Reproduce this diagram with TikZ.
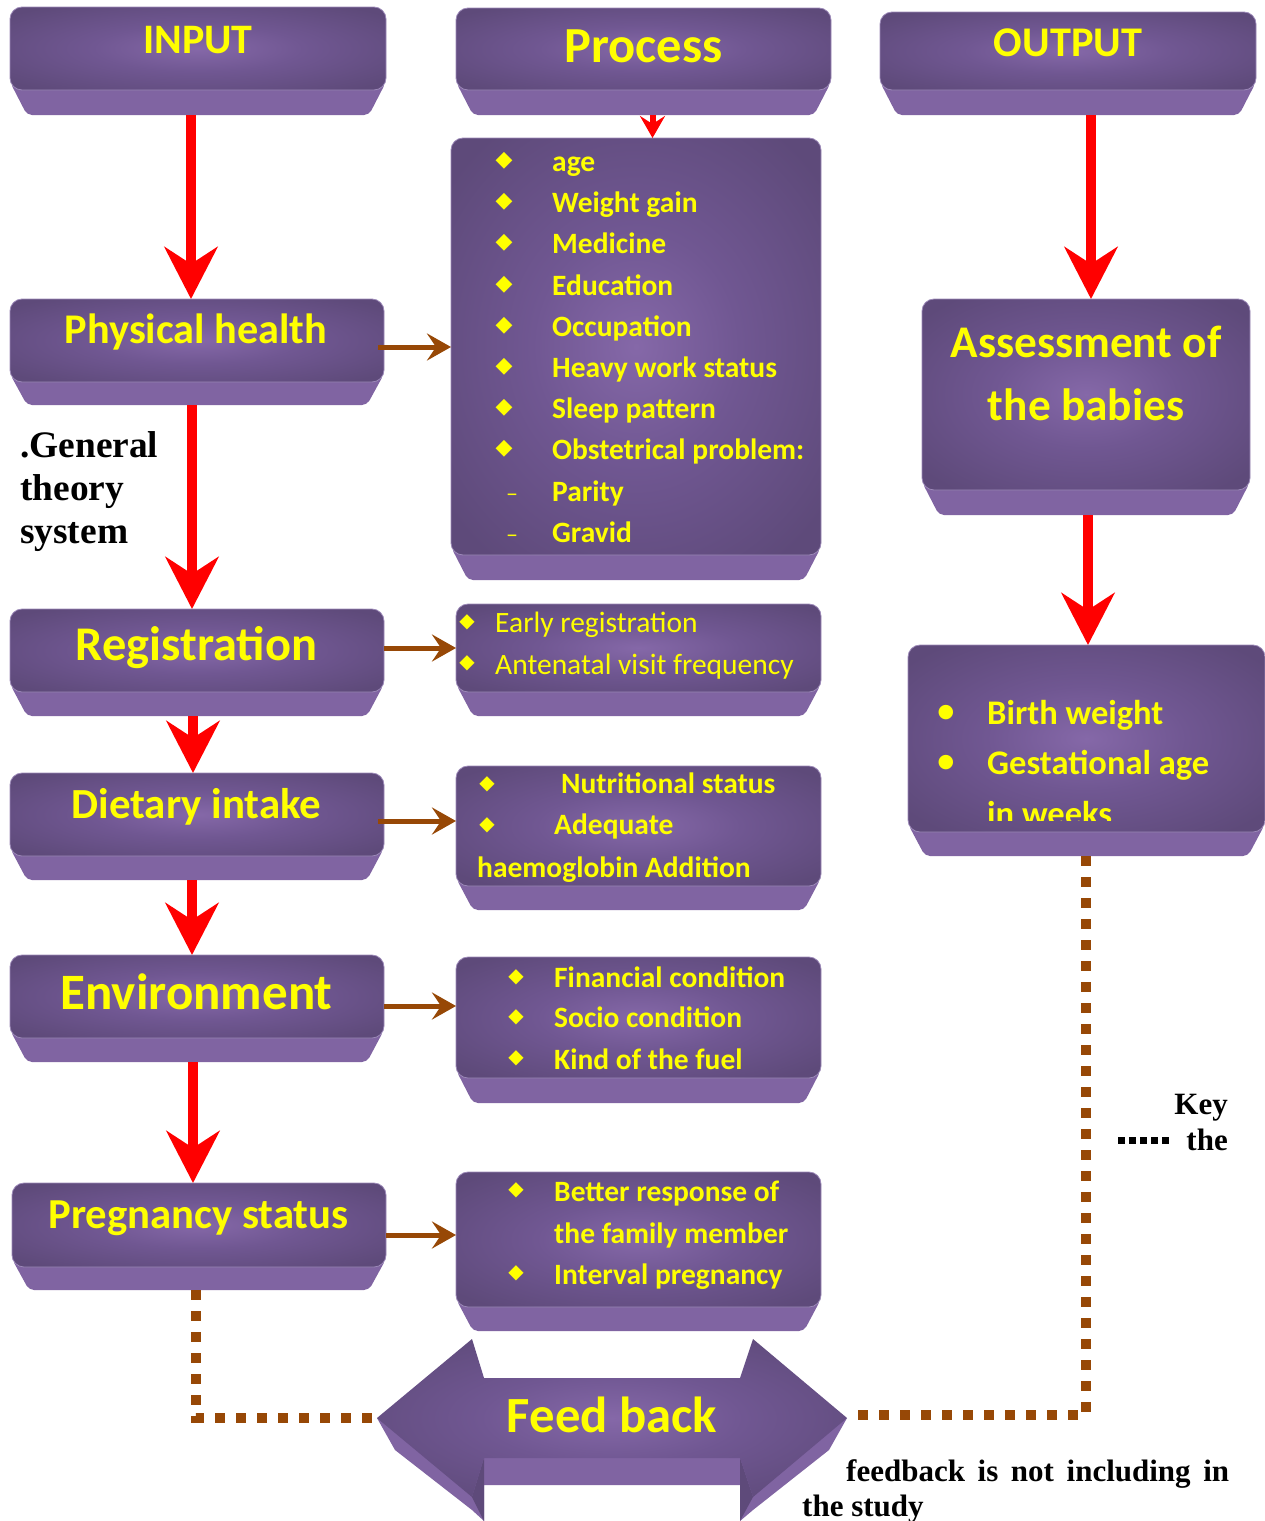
\documentclass[tikz,border=0pt]{standalone}
\usepackage{fontspec}
\setmainfont{Carlito}
\newfontfamily\tnr{Liberation Serif}
\newfontfamily\djv{DejaVu Sans}
\usetikzlibrary{arrows.meta,calc}
\definecolor{pdark}{HTML}{5E4A7A}
\definecolor{plight}{HTML}{8568A8}
\definecolor{pmid}{HTML}{705792}
\definecolor{pbevel}{HTML}{8064A2}
\definecolor{pedge}{HTML}{9C89B8}
\definecolor{ytext}{HTML}{FFFF00}
\definecolor{brn}{HTML}{974806}
\definecolor{rd}{HTML}{FF0000}
\pgfdeclareradialshading{glow}{\pgfpoint{0bp}{0bp}}{color(0bp)=(plight); color(14bp)=(pmid); color(32bp)=(pdark); color(50bp)=(pdark)}
\tikzset{
  boxnode/.style={inner sep=0pt, outer sep=0pt, draw=none},
  ttl/.style={text=ytext, font=\bfseries\fontsize{#1}{#1}\selectfont, anchor=base, inner sep=0pt},
  itemb/.style={text=ytext, font=\bfseries\fontsize{29.5}{29.5}\selectfont, anchor=base west, inner sep=0pt},
  itemr/.style={text=ytext, font=\fontsize{29.5}{29.5}\selectfont, anchor=base west, inner sep=0pt},
  itemo/.style={text=ytext, font=\bfseries\fontsize{34.5}{34.5}\selectfont, anchor=base west, inner sep=0pt},
  dia/.style={text=ytext, font=\djv\fontsize{#1}{#1}\selectfont, inner sep=0pt},
  dsh/.style={text=ytext, font=\fontsize{24}{24}\selectfont, anchor=base, inner sep=0pt},
  blk/.style={text=black, font=\tnr\bfseries\fontsize{#1}{#1}\selectfont, inner sep=0pt},
  redarr/.style={draw=rd, line width=10pt, -{Stealth[length=52pt, width=53pt, inset=17pt]}},
  redsmall/.style={draw=rd, line width=6pt, -{Stealth[length=22pt, width=25pt, inset=8pt]}},
  brarr/.style={draw=brn, line width=5pt, -{Stealth[length=24pt, width=27pt, inset=9pt]}},
  dotln/.style={draw=brn, line width=10pt, dash pattern=on 10pt off 11pt},
  keydots/.style={draw=black, line width=7pt, dash pattern=on 7pt off 4pt}
}
\newcommand{\purplebox}[6]{%
  \fill[pbevel, rounded corners=5pt] (#2,#5-8) -- (#3,#5-8) -- (#3-17,#6) -- (#2+17,#6) -- cycle;
  \shade[shading=glow, draw=pedge, line width=0.8pt, rounded corners=12pt] (#2,#4) rectangle (#3,#5);
  \node[boxnode, minimum width={#3-#2}, minimum height={#6-#4}] (#1) at ({(#2+#3)/2},{(#4+#6)/2}) {};
}
\begin{document}
\begin{tikzpicture}[x=1pt, y=-1pt]
\useasboundingbox (0,0) rectangle (1265,1521);
\fill[white] (0,0) rectangle (1265,1521);

% ---------- header boxes
\purplebox{input}{10}{386}{7}{90}{115}
\purplebox{process}{456}{831}{8}{90}{115}
\purplebox{output}{880}{1256}{12}{90}{115}
\node[ttl=42] (tinput) at (198,53.5) {INPUT};
\node[ttl=50.5] (tprocess) at (643.5,62) {Process};
\node[ttl=42.3] (toutput) at (1068,56.5) {OUTPUT};

% ---------- left column
\purplebox{phys}{10}{384}{299}{382}{405}
\purplebox{reg}{10}{384}{609}{692}{716}
\purplebox{diet}{10}{384}{773}{856}{880}
\purplebox{env}{10}{384}{955}{1038}{1062}
\purplebox{preg}{12}{386}{1183}{1267}{1290}
\node[ttl=42.3] (tphys) at (196,343.5) {Physical health};
\node[ttl=48.4] (treg) at (196.5,660.5) {Registration};
\node[ttl=42.9] (tdiet) at (196.5,818.5) {Dietary intake};
\node[ttl=51] (tenv) at (196.5,1009.5) {Environment};
\node[ttl=42.7] (tpreg) at (198.5,1228.5) {Pregnancy status};

% ---------- middle column
\purplebox{plist}{451}{821}{138}{555}{580}
\purplebox{rlist}{456}{821}{604}{692}{716}
\purplebox{dlist}{456}{821}{766}{886}{910}
\purplebox{elist}{456}{821}{957}{1078}{1103}
\purplebox{glist}{456}{821}{1172}{1307}{1331}

% big list
\foreach \yy/\tt [count=\i] in {171/age, 212/Weight gain, 253/Medicine, 295/Education, 336/Occupation, 377/Heavy work status, 418/Sleep pattern, 459/Obstetrical problem:}{
  \node[dia=22] (pd\i) at (504,\yy-10) {◆};
  \node[itemb] (pt\i) at (552,\yy) {\tt};
}
\node[dsh] (pdash1) at (512,501) {–};
\node[itemb] (pt9) at (552,501) {Parity};
\node[dsh] (pdash2) at (512,542) {–};
\node[itemb] (pt10) at (552,542) {Gravid};

% registration list
\node[dia=20] (rd1) at (467,622) {◆};
\node[itemr] (rt1) at (495,632) {Early registration};
\node[dia=20] (rd2) at (467,663) {◆};
\node[itemr] (rt2) at (495,674) {Antenatal visit frequency};

% dietary list
\node[dia=20] (dd1) at (487,784) {◆};
\node[itemb] (dt1) at (561,793) {Nutritional status};
\node[dia=20] (dd2) at (487,825) {◆};
\node[itemb] (dt2) at (554,834) {Adequate};
\node[itemb] (dt3) at (477,877) {haemoglobin Addition};

% environment list
\node[dia=20] (ed1) at (516,977) {◆};
\node[itemb] (et1) at (554,987) {Financial condition};
\node[dia=20] (ed2) at (516,1017) {◆};
\node[itemb] (et2) at (554,1027) {Socio condition};
\node[dia=20] (ed3) at (516,1058) {◆};
\node[itemb] (et3) at (554,1069) {Kind of the fuel};

% pregnancy list
\node[dia=20] (gd1) at (516,1190) {◆};
\node[itemb] (gt1) at (554,1201) {Better response of};
\node[itemb] (gt2) at (554,1243) {the family member};
\node[dia=20] (gd2) at (516,1273) {◆};
\node[itemb] (gt3) at (554,1284) {Interval pregnancy};

% ---------- right column
\purplebox{assess}{922}{1250}{299}{490}{515}
\node[ttl=45.3] (tass1) at (1086,357) {Assessment of};
\node[ttl=45.3] (tass2) at (1086,420) {the babies};
\purplebox{birth}{908}{1265}{645}{832}{856}
\node[dia=19] (bd1) at (946,713) {●};
\node[itemo] (bt1) at (987,724.5) {Birth weight};
\node[dia=19] (bd2) at (946,763) {●};
\node[itemo] (bt2) at (987,774.5) {Gestational age};
\begin{scope}
  \clip (908,645) rectangle (1265,820);
  \node[itemo] (bt3) at (987,825) {in weeks};
\end{scope}

% ---------- red arrows
\coordinate (a1) at ([xshift=-7pt]input.south);
\draw[redarr] (a1) -- (a1 |- phys.north);
\coordinate (a2) at ([xshift=-5pt]phys.south);
\draw[redarr] (a2) -- (a2 |- reg.north);
\coordinate (a3) at ([xshift=-4pt]reg.south);
\draw[redarr] (a3) -- (a3 |- diet.north);
\coordinate (a4) at ([xshift=-5pt]diet.south);
\draw[redarr] (a4) -- (a4 |- env.north);
\coordinate (a5) at ([xshift=-4pt]env.south);
\draw[redarr] (a5) -- (a5 |- preg.north);
\coordinate (a6) at ([xshift=9pt]process.south);
\draw[redsmall] (a6) -- (a6 |- plist.north);
\coordinate (a7) at ([xshift=5pt]assess.north |- output.south);
\draw[redarr] (a7) -- (a7 |- assess.north);
\coordinate (a8) at ([xshift=2pt]assess.south);
\draw[redarr] (a8) -- (a8 |- birth.north);

% ---------- brown arrows
\coordinate (b1) at (378,347);
\draw[brarr] (b1) -- (b1 -| plist.west);
\coordinate (b2) at (384,648);
\draw[brarr] (b2) -- (b2 -| rlist.west);
\coordinate (b3) at (378,821);
\draw[brarr] (b3) -- (b3 -| dlist.west);
\coordinate (b4) at (384,1006);
\draw[brarr] (b4) -- (b4 -| elist.west);
\coordinate (b5) at (386,1235);
\draw[brarr] (b5) -- (b5 -| glist.west);

% ---------- feedback double arrow
\fill[pbevel] (377,1418) -- (395,1450) -- (472,1510) -- (484,1521) -- (484,1485) -- (740,1485) -- (740,1521) -- (753,1510) -- (829,1450) -- (847,1418) -- cycle;
\fill[pdark] (472,1497) -- (484,1458) -- (484,1521) -- cycle;
\fill[pdark] (753,1497) -- (740,1458) -- (740,1521) -- cycle;
\shade[shading=glow] (377,1418) -- (472,1339) -- (484,1378) -- (740,1378) -- (753,1339) -- (847,1418) -- (753,1497) -- (740,1458) -- (484,1458) -- (472,1497) -- cycle;
\coordinate (fbL) at (377,1418);
\coordinate (fbR) at (847,1415);
\node[ttl=50.7] (fbtext) at (612,1432) {Feed back};

% ---------- dotted feedback lines
\coordinate (d1) at ([xshift=-3pt]preg.south);
\draw[dotln] (d1) |- (fbL);
\coordinate (d2) at ([xshift=-1pt]birth.south);
\draw[dotln] (d2) |- (fbR);

% ---------- black texts
\node[blk=37.4, anchor=base west] (gen1) at (20,457) {.General};
\node[blk=37.4, anchor=base west] (gen2) at (20,500) {theory};
\node[blk=37.4, anchor=base west] (gen3) at (20,543) {system};

\node[blk=31, anchor=base east] (key) at (1228,1114) {Key};
\node[blk=31, anchor=base east] (keythe) at (1228,1150) {the};
\coordinate (k1) at (1118,1140);
\coordinate (k2) at (1169,1140);
\draw[keydots] (k1) -- (k2);
\node[blk=31, anchor=base west] (note1) at (846,1481) {\makebox[383pt][s]{feedback is not including in}};
\node[blk=31, anchor=base west] (note2) at (802,1516) {the study};
\end{tikzpicture}
\end{document}
